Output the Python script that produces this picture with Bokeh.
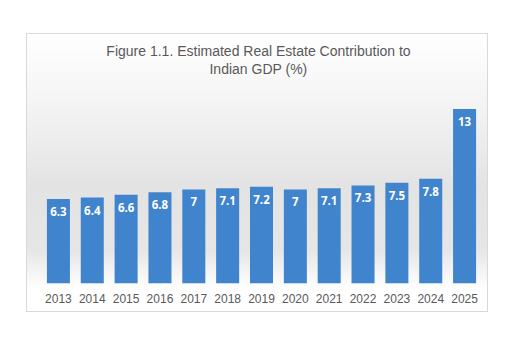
from bokeh.plotting import figure
from bokeh.models import ColumnDataSource, FactorRange, Range1d, Label
from bokeh.core.properties import value
from bokeh.embed import file_html
from bokeh.resources import INLINE

years = ["2013", "2014", "2015", "2016", "2017", "2018", "2019",
         "2020", "2021", "2022", "2023", "2024", "2025"]
shares = [6.3, 6.4, 6.6, 6.8, 7, 7.1, 7.2, 7, 7.1, 7.3, 7.5, 7.8, 13]
labels = ["6.3", "6.4", "6.6", "6.8", "7", "7.1", "7.2", "7", "7.1", "7.3", "7.5", "7.8", "13"]
title_line1 = "Figure 1.1. Estimated Real Estate Contribution to"
title_line2 = "Indian GDP (%)"

src = ColumnDataSource(dict(x=years, y=shares, lab=labels))

p = figure(width=462, height=279, x_range=FactorRange(*years, range_padding=0),
           y_range=Range1d(0, 18.54), output_backend="svg", toolbar_location=None,
           y_axis_location=None, title_location=None, min_border_left=14, min_border_right=8,
           min_border_top=0, min_border_bottom=30)
p.margin = (33, 0, 0, 26)
p.styles = {
    "border": "1px solid #d9d9d9",
    "background": "linear-gradient(to bottom, #ffffff 0%, #f4f4f4 25%, #e3e3e3 55%, "
                  "#e6e6e6 78%, #ffffff 92%, #ffffff 100%)",
}

for t, sy in ((title_line1, 233), (title_line2, 215)):
    p.add_layout(Label(x=217, y=sy, x_units="screen", y_units="screen", text=t,
                       text_align="center", text_baseline="middle",
                       text_font="Liberation Sans", text_font_size="14px",
                       text_color="#595959"))

p.background_fill_color = None
p.border_fill_color = None
p.outline_line_color = None
p.xgrid.visible = False
p.ygrid.visible = False

p.vbar(x="x", top="y", width=0.68, source=src, fill_color="#3f84cc", line_color=None)
p.text(x="x", y="y", text="lab", source=src, y_offset=8, text_align="center",
       text_baseline="top", text_color="white", text_font=value("Open Sans"),
       text_font_style="bold", text_font_size="11.5px")

ax = p.xaxis[0]
ax.axis_line_color = None
ax.major_tick_line_color = None
ax.minor_tick_line_color = None
ax.major_label_text_font = "Liberation Sans"
ax.major_label_text_font_size = "12px"
ax.major_label_text_color = "#595959"
ax.major_label_standoff = 4

open("out.html", "w").write(file_html(p, INLINE))
